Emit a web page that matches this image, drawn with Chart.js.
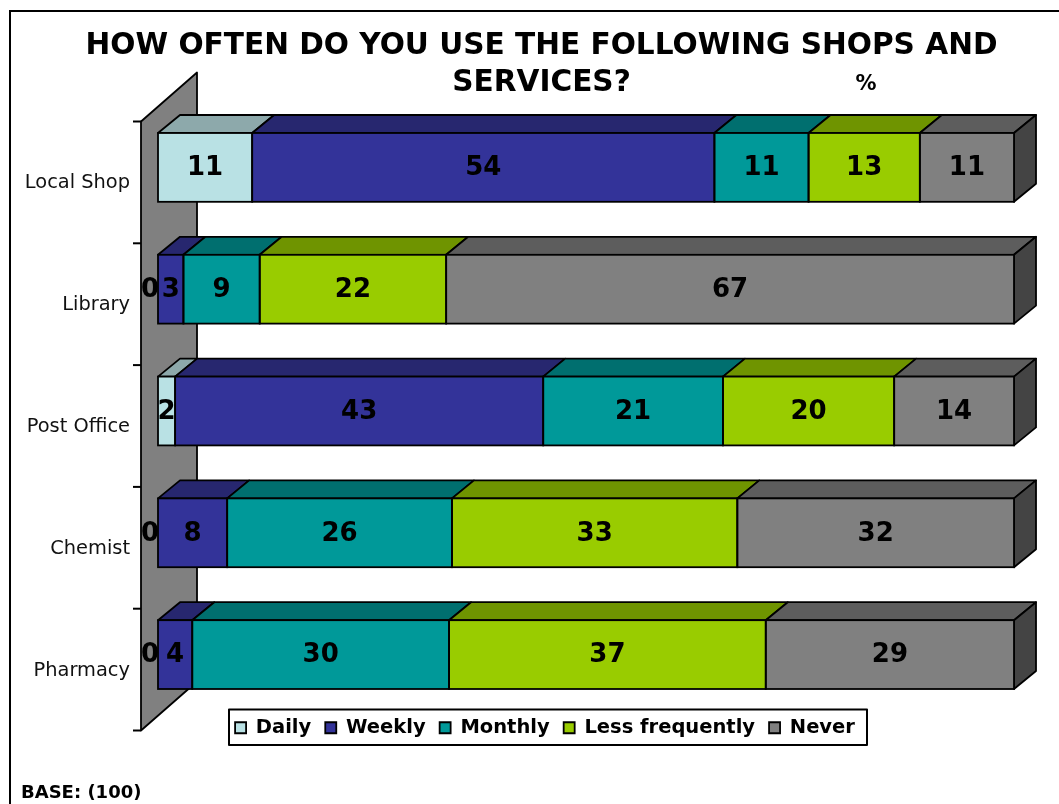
<!DOCTYPE html>
<html><head><meta charset="utf-8">
<style>html,body{margin:0;padding:0;background:#fff}canvas{display:block}</style>
<script src="https://cdn.jsdelivr.net/npm/chart.js@4"></script>
</head><body><canvas id="c" width="1059" height="804"></canvas>
<script>
const categories = ['Local Shop','Library','Post Office','Chemist','Pharmacy'];
const daily   = [11,0,2,0,0];
const weekly  = [54,3,43,8,4];
const monthly = [11,9,21,26,30];
const lessFrequently = [13,22,20,33,37];
const never   = [11,67,14,32,29];
const seriesNames = ['Daily','Weekly','Monthly','Less frequently','Never'];
const seriesValues = [daily,weekly,monthly,lessFrequently,never];
const frontColors = ['#B9E1E4','#333399','#009999','#99CC00','#808080'];
const topColors   = ['#8DA9AB','#27276F','#006F6F','#6F9400','#5D5D5D'];
const sideColor = '#444444', wallColor = '#808080';
const FONT = '"DejaVu Sans"';
const totals = categories.map((_,i)=>seriesValues.reduce((s,a)=>s+a[i],0));

const DX = 22, DY = 18, EDGE = 1.8;
function poly(ctx, pts, fill){
  ctx.beginPath(); pts.forEach((p,i)=> i?ctx.lineTo(p[0],p[1]):ctx.moveTo(p[0],p[1])); ctx.closePath();
  ctx.fillStyle = fill; ctx.fill(); ctx.lineWidth = EDGE; ctx.strokeStyle = '#000'; ctx.lineJoin='round'; ctx.stroke();
}
const chart3d = {
  id:'chart3d',
  afterLayout(chart){
    const l = chart.legend, h = l.bottom-l.top;
    l.left += 3.5; l.right += 3.5;
    l.top = 704; l.bottom = 704+h;
    chart.scales.y.left = 11;
  },
  beforeDraw(chart){
    const ctx = chart.ctx, x = chart.scales.x, y = chart.scales.y;
    ctx.save();
    ctx.fillStyle='#fff'; ctx.fillRect(0,0,1059,804);
    ctx.strokeStyle='#000'; ctx.lineWidth=2;
    ctx.beginPath(); ctx.moveTo(1060,11); ctx.lineTo(10,11); ctx.lineTo(10,805); ctx.stroke();
    const band = y.getPixelForValue(1)-y.getPixelForValue(0);
    const x0 = x.getPixelForValue(0);
    const wl = x0-17, wr = x0+39, drop = 15, wtop = y.top+drop, wbot = y.bottom+drop, wd = 49;
    poly(ctx,[[wl,wtop],[wr,wtop-wd],[wr,wbot-wd],[wl,wbot]],wallColor);
    ctx.lineWidth=2; ctx.strokeStyle='#000';
    for(let k=0;k<=categories.length;k++){
      const ty = wtop+k*band;
      ctx.beginPath(); ctx.moveTo(wl-8,ty); ctx.lineTo(wl,ty); ctx.stroke();
    }
    ctx.fillStyle='#fff'; ctx.fillRect(229,709.5,638,35.5);
    ctx.strokeRect(229,709.5,638,35.5);
    ctx.restore();
  },
  beforeDatasetsDraw(chart){
    const ctx = chart.ctx;
    ctx.save();
    chart.data.datasets.forEach((ds,di)=>{
      chart.getDatasetMeta(di).data.forEach((bar,i)=>{
        const p = bar.getProps(['x','base','y','height']);
        if(seriesValues[di][i]===0) return;
        const t = p.y-p.height/2, b = p.y+p.height/2;
        poly(ctx,[[p.base,t],[p.base+DX,t-DY],[p.x+DX,t-DY],[p.x,t]],topColors[di]);
        if(di===chart.data.datasets.length-1)
          poly(ctx,[[p.x,t],[p.x+DX,t-DY],[p.x+DX,b-DY],[p.x,b]],sideColor);
      });
    });
    ctx.restore();
  },
  afterDatasetsDraw(chart){
    const ctx = chart.ctx;
    ctx.save();
    ctx.strokeStyle='#000'; ctx.lineWidth=EDGE;
    chart.data.datasets.forEach((ds,di)=>{
      chart.getDatasetMeta(di).data.forEach((bar,i)=>{
        if(seriesValues[di][i]===0) return;
        const p = bar.getProps(['x','base','y','height']);
        ctx.strokeRect(p.base,p.y-p.height/2,p.x-p.base,p.height);
      });
    });
    ctx.fillStyle='#000'; ctx.textAlign='center'; ctx.textBaseline='middle';
    ctx.font = 'bold 26px '+FONT;
    chart.data.datasets.forEach((ds,di)=>{
      chart.getDatasetMeta(di).data.forEach((bar,i)=>{
        const p = bar.getProps(['x','base','y']);
        const v = seriesValues[di][i];
        const cx = (p.x+p.base)/2 + (v===0?-8:0);
        ctx.fillText(String(v),cx,p.y+1);
      });
    });
    ctx.font = 'bold 21px '+FONT;
    ctx.fillText('%',866,85);
    ctx.textAlign='left';
    ctx.font = 'bold 18px '+FONT;
    ctx.fillText('BASE: (100)',21,793);
    ctx.restore();
  }
};
new Chart(document.getElementById('c'),{
  type:'bar',
  plugins:[chart3d],
  data:{
    labels:categories,
    datasets:seriesNames.map((n,di)=>({
      label:n,
      data:seriesValues[di].map((v,i)=>v/totals[i]*100),
      backgroundColor:frontColors[di],
      borderColor:'#000',
      borderWidth:0,
      barPercentage:0.565,
      categoryPercentage:1
    }))
  },
  options:{
    indexAxis:'y',
    responsive:false,
    animation:false,
    layout:{padding:{left:69,right:45,top:28,bottom:45}},
    scales:{
      x:{stacked:true,min:0,max:100,display:false},
      y:{stacked:true,
         grid:{display:false,drawTicks:false},
         border:{display:false},
         ticks:{color:'#111',font:{family:FONT,size:19.4},padding:28,labelOffset:16},
         afterFit(s){s.width=89;}
      }
    },
    plugins:{
      tooltip:{enabled:false},
      title:{display:true,text:['HOW OFTEN DO YOU USE THE FOLLOWING SHOPS AND','SERVICES?'],
        color:'#000',font:{family:FONT,size:29.6,weight:'bold',lineHeight:37/29.6},padding:{top:0,bottom:4.5}},
      legend:{position:'bottom',
        labels:{color:'#000',font:{family:FONT,size:19.5,weight:'bold'},boxWidth:11,boxHeight:11,padding:14,
          generateLabels(c){
            return Chart.defaults.plugins.legend.labels.generateLabels(c).map(it=>({...it,lineWidth:1.8,strokeStyle:'#000'}));
          }}}
    }
  }
});
</script></body></html>
